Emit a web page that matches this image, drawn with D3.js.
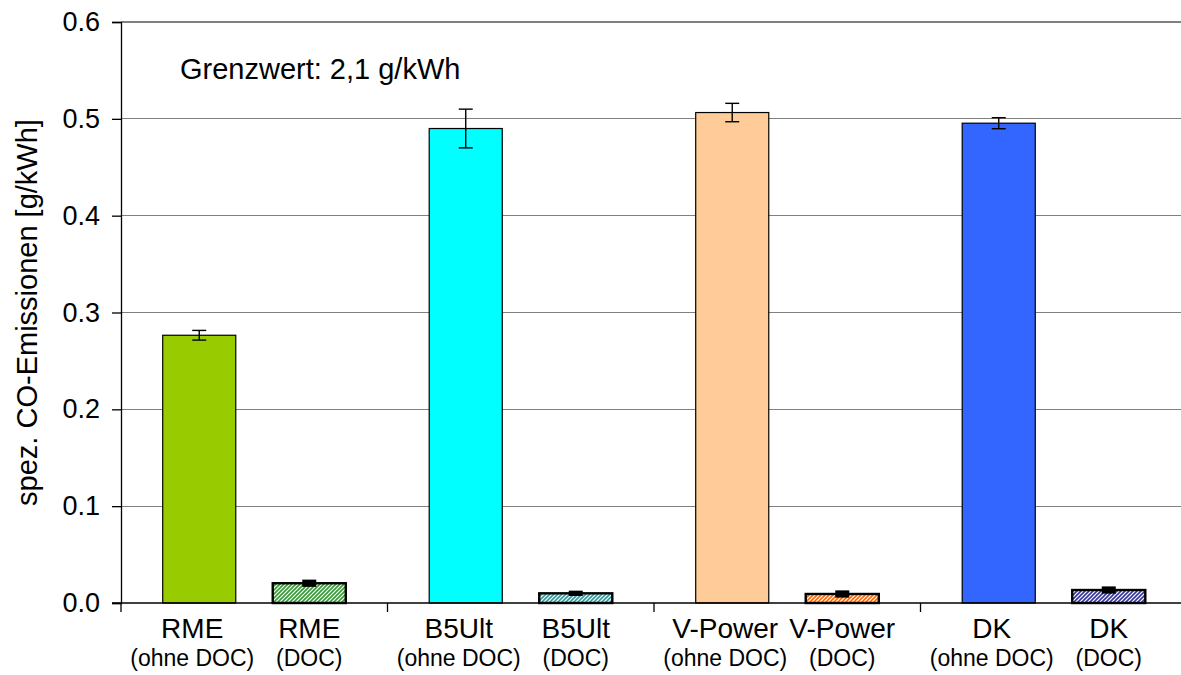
<!DOCTYPE html>
<html>
<head>
<meta charset="utf-8">
<script src="https://cdn.jsdelivr.net/npm/d3@7/dist/d3.min.js"></script>
<style>
  html, body { margin: 0; padding: 0; background: #fff; }
  svg { display: block; font-family: "Liberation Sans", Arial, sans-serif; }
</style>
</head>
<body>
<svg id="chart" width="1181" height="675"></svg>
<script>
// Fuels (groups) and the two variants per fuel
const fuels = ["RME", "B5Ult", "V-Power", "DK"];
const variants = ["ohne DOC", "DOC"];
const variantLabels = ["(ohne DOC)", "(DOC)"];

// Specific CO emissions [g/kWh], mean and error half-width
const valuesOhneDOC = [0.2765, 0.490, 0.5065, 0.4955];
const errorsOhneDOC = [0.005, 0.020, 0.0095, 0.0057];
const valuesDOC = [0.0204, 0.0100, 0.0093, 0.0134];
const errorsDOC = [0.0022, 0.0012, 0.0022, 0.0022];

const yTicks = [0, 0.1, 0.2, 0.3, 0.4, 0.5, 0.6];
const yTickLabels = ["0.0", "0.1", "0.2", "0.3", "0.4", "0.5", "0.6"];

const fuelColors = ["#99CC00", "#00FFFF", "#FFCC99", "#3366FF"];
const hatchColors = ["#339933", "#339999", "#FF6600", "#333399"];

const annotation = "Grenzwert: 2,1 g/kWh";
const yTitle = "spez. CO-Emissionen [g/kWh]";

(function draw() {
  const svg = d3.select("#chart");
  const plotLeft = 121, plotRight = 1187, plotTop = 22, plotBottom = 603;

  const x0 = d3.scaleBand().domain(fuels).range([plotLeft, plotRight]).paddingInner(0).paddingOuter(0);
  const x1 = d3.scaleBand().domain(variants).range([0, x0.bandwidth()])
    .paddingInner(0.336).paddingOuter(0.379);
  const y = d3.scaleLinear().domain([0, 0.6]).range([plotBottom, plotTop]);

  // Hatch patterns for the DOC bars
  const defs = svg.append("defs");
  fuels.forEach((f, i) => {
    const p = defs.append("pattern")
      .attr("id", "hatch" + i)
      .attr("patternUnits", "userSpaceOnUse")
      .attr("width", 4).attr("height", 4);
    p.append("rect").attr("width", 4).attr("height", 4).attr("fill", "#fff");
    p.append("path")
      .attr("d", "M-1,1 l2,-2 M0,4 l4,-4 M3,5 l2,-2")
      .attr("stroke", hatchColors[i]).attr("stroke-width", 1.6);
  });

  // Gridlines
  svg.append("g")
    .selectAll("line")
    .data(yTicks.filter(t => t > 0))
    .join("line")
    .attr("x1", plotLeft).attr("x2", plotRight)
    .attr("y1", d => y(d)).attr("y2", d => y(d))
    .attr("stroke", "#808080").attr("stroke-width", 1.2)
    .attr("shape-rendering", "crispEdges");

  // Y axis
  const yAxis = d3.axisLeft(y)
    .tickValues(yTicks)
    .tickFormat((d, i) => yTickLabels[i])
    .tickSize(9)
    .tickPadding(12);
  const gy = svg.append("g").attr("transform", `translate(${plotLeft},0)`).call(yAxis);
  gy.select(".domain").attr("stroke", "#000").attr("stroke-width", 1.3);
  gy.selectAll(".tick line").attr("stroke", "#000").attr("stroke-width", 1.3);
  gy.selectAll(".tick text").attr("font-size", 27).attr("fill", "#000")
    .attr("font-family", "Liberation Sans, Arial, sans-serif");

  // Bars
  const rows = [];
  fuels.forEach((f, i) => {
    rows.push({ fuel: f, i, variant: "ohne DOC", label: variantLabels[0], value: valuesOhneDOC[i], err: errorsOhneDOC[i] });
    rows.push({ fuel: f, i, variant: "DOC", label: variantLabels[1], value: valuesDOC[i], err: errorsDOC[i] });
  });
  const bx = d => x0(d.fuel) + x1(d.variant);
  const bw = x1.bandwidth();

  svg.append("g")
    .selectAll("rect")
    .data(rows)
    .join("rect")
    .attr("x", bx)
    .attr("y", d => y(d.value))
    .attr("width", bw)
    .attr("height", d => y(0) - y(d.value))
    .attr("fill", d => d.variant === "DOC" ? `url(#hatch${d.i})` : fuelColors[d.i])
    .attr("stroke", "#000")
    .attr("stroke-width", d => d.variant === "DOC" ? 2.4 : 1.2);

  // Error bars
  const eg = svg.append("g");
  rows.forEach(d => {
    const cx = bx(d) + bw / 2;
    const heavy = d.variant === "DOC";
    const g = eg.append("g").attr("stroke", "#000").attr("stroke-width", heavy ? 3 : 1.4);
    g.append("line").attr("x1", cx).attr("x2", cx).attr("y1", y(d.value + d.err)).attr("y2", y(d.value - d.err));
    [d.value + d.err, d.value - d.err].forEach(v => {
      g.append("line").attr("x1", cx - 7).attr("x2", cx + 7).attr("y1", y(v)).attr("y2", y(v));
    });
  });

  // X axis line and group separators
  svg.append("line")
    .attr("x1", plotLeft - 9).attr("x2", plotRight)
    .attr("y1", plotBottom).attr("y2", plotBottom)
    .attr("stroke", "#000").attr("stroke-width", 1.3);
  svg.append("g")
    .selectAll("line")
    .data(fuels)
    .join("line")
    .attr("x1", d => x0(d)).attr("x2", d => x0(d))
    .attr("y1", plotBottom).attr("y2", plotBottom + 9)
    .attr("stroke", "#000").attr("stroke-width", 1.3);

  // Category labels (the "ohne DOC" labels sit slightly left of their bars)
  const lg = svg.append("g").attr("text-anchor", "middle").attr("fill", "#000");
  rows.forEach(d => {
    const cx = bx(d) + bw / 2 + (d.variant === "DOC" ? 0 : -7);
    lg.append("text").attr("x", cx).attr("y", 638).attr("font-size", 28).text(d.fuel);
    lg.append("text").attr("x", cx).attr("y", 666).attr("font-size", 23).text(d.label);
  });

  // Annotation
  svg.append("text")
    .attr("x", 180).attr("y", 79)
    .attr("font-size", 29)
    .text(annotation);

  // Y axis title
  svg.append("text")
    .attr("transform", `translate(37,${(plotTop + plotBottom) / 2}) rotate(-90)`)
    .attr("text-anchor", "middle")
    .attr("font-size", 29)
    .text(yTitle);
})();
</script>
</body>
</html>
